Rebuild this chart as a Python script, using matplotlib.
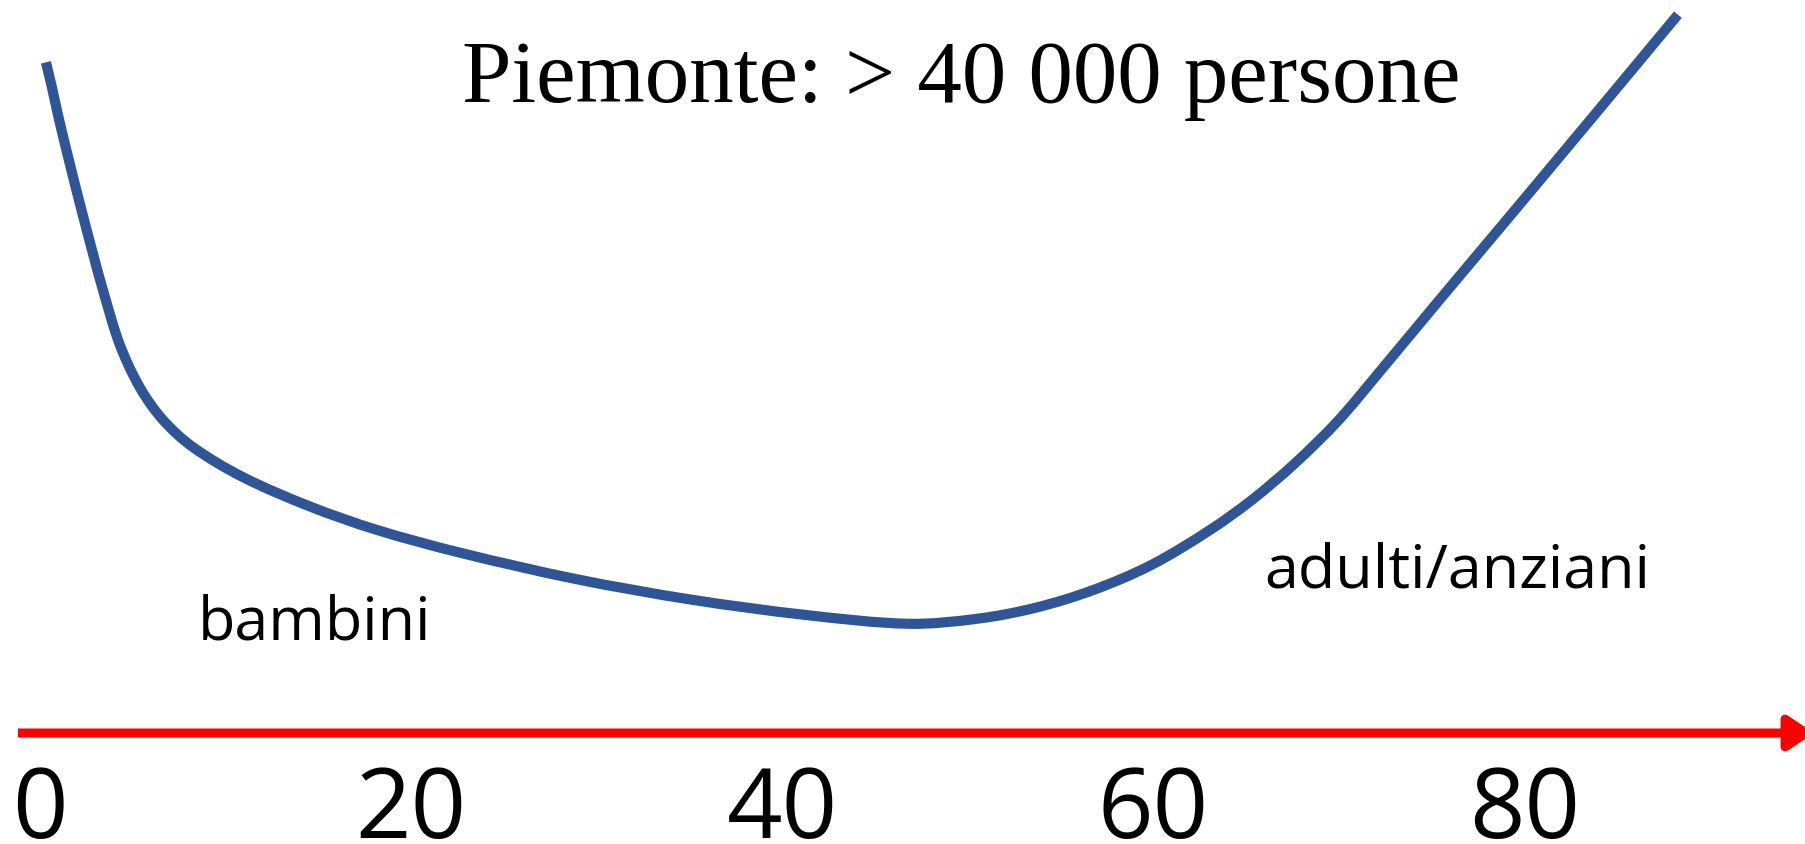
import matplotlib
matplotlib.use("Agg")
import math
import matplotlib.pyplot as plt
from matplotlib.path import Path
from matplotlib.patches import PathPatch

# ---- data ----
age = [0.32, 0.65, 0.97, 1.62, 2.21, 2.80, 3.45, 4.31, 5.39, 6.63, 8.24, 10.94,
       14.55, 18.16, 22.63, 28.88, 35.08, 41.27, 46.82, 50.54, 53.66, 56.74,
       59.86, 62.98, 65.30, 67.62, 69.94, 72.25, 75.54, 78.66, 81.90, 85.13, 88.25]
value = [91.5, 88.0, 84.3, 77.5, 71.6, 65.9, 59.9, 52.9, 47.1, 42.7, 39.0, 34.9,
         30.9, 27.7, 24.6, 21.0, 18.2, 16.1, 14.9, 15.6, 17.1, 19.5,
         22.9, 27.6, 31.8, 36.8, 42.6, 49.5, 59.5, 68.9, 78.7, 88.5, 98.0]
tick_values = [0, 20, 40, 60, 80]
tick_labels = ["0", "20", "40", "60", "80"]
title = "Piemonte: > 40 000 persone"
label_children = "bambini"
label_adults = "adulti/anziani"

W, H = 1805, 844
XS, YS = 18.56, 7.33          # pixels per data unit
fig = plt.figure(figsize=(W / 100, H / 100), dpi=100)
ax = fig.add_axes([0, 0, 1, 1])
ax.set_xlim(-40 / XS, (W - 40) / XS)
ax.set_ylim((733 - H) / YS, 733 / YS)
ax.axis("off")

# curve: smooth Bezier path through the data points (chord-length Catmull-Rom)
P = [(a * XS, v * YS) for a, v in zip(age, value)]
n = len(P)
d = [math.dist(P[i], P[i + 1]) for i in range(n - 1)]
tang = []
for i in range(n):
    if i == 0:
        tang.append(((P[1][0] - P[0][0]) / d[0], (P[1][1] - P[0][1]) / d[0]))
    elif i == n - 1:
        tang.append(((P[-1][0] - P[-2][0]) / d[-1], (P[-1][1] - P[-2][1]) / d[-1]))
    else:
        s = d[i - 1] + d[i]
        tang.append(((P[i + 1][0] - P[i - 1][0]) / s, (P[i + 1][1] - P[i - 1][1]) / s))
verts = [P[0]]
codes = [Path.MOVETO]
for i in range(n - 1):
    c1 = (P[i][0] + tang[i][0] * d[i] / 3, P[i][1] + tang[i][1] * d[i] / 3)
    c2 = (P[i + 1][0] - tang[i + 1][0] * d[i] / 3, P[i + 1][1] - tang[i + 1][1] * d[i] / 3)
    verts += [c1, c2, P[i + 1]]
    codes += [Path.CURVE4] * 3
verts = [(x / XS, y / YS) for x, y in verts]
ax.add_patch(PathPatch(Path(verts, codes), facecolor="none",
                       edgecolor="#2F5597", lw=7.3, capstyle="butt",
                       joinstyle="round"))

# red axis arrow
ax.annotate("", xy=((1814 - 40) / XS, 0), xytext=((18 - 40) / XS, 0),
            annotation_clip=False,
            arrowprops=dict(arrowstyle="-|>,head_length=0.75,head_width=0.5",
                            color="#FF0000", lw=6.5, mutation_scale=20,
                            shrinkA=0, shrinkB=0, capstyle="butt"))

# tick labels
for v, lab in zip(tick_values, tick_labels):
    ax.text(v, (733 - 838) / YS, lab, ha="center", va="baseline",
            fontsize=70, family="Open Sans", color="black")

# texts
fig.text(961 / W, 1 - 102 / H, title, ha="center", va="baseline",
         fontsize=64, family="Liberation Serif", color="black")
fig.text(198 / W, 1 - 640 / H, label_children, ha="left", va="baseline",
         fontsize=44, family="Open Sans", color="black")
fig.text(1264 / W, 1 - 588 / H, label_adults, ha="left", va="baseline",
         fontsize=44, family="Open Sans", color="black")

fig.savefig("out.png", dpi=100, facecolor="white")
